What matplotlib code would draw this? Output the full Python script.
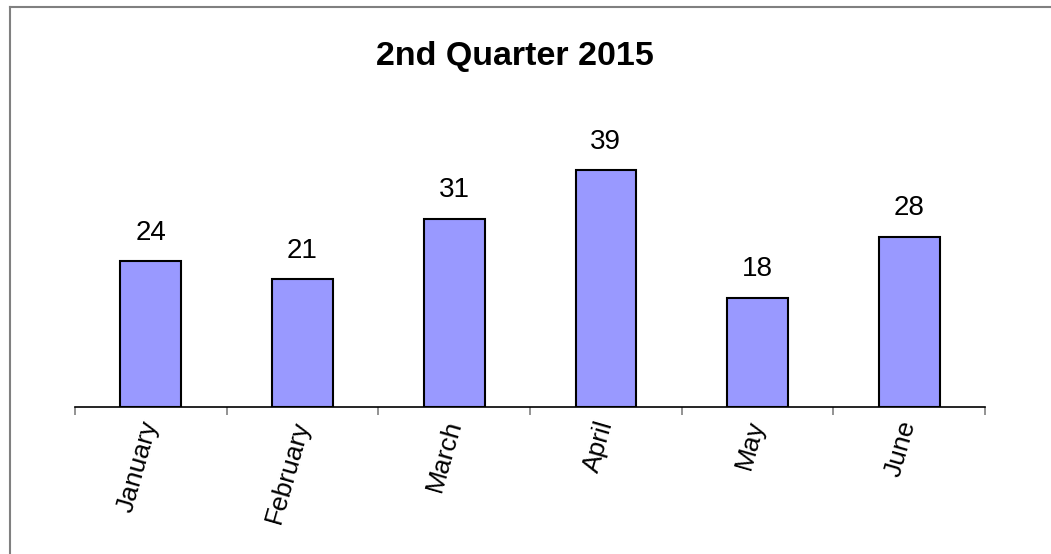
import matplotlib.pyplot as plt
from matplotlib.lines import Line2D
import numpy as np

months = ['January', 'February', 'March', 'April', 'May', 'June']
values = [24, 21, 31, 39, 18, 28]
title = '2nd Quarter 2015'

plt.rcParams['font.family'] = ['Liberation Sans', 'DejaVu Sans']

fig = plt.figure(figsize=(10.51, 5.54), dpi=100)
ax = fig.add_axes([75 / 1051, 1 - 407 / 554, 910 / 1051, 304 / 554])

x = np.arange(len(months))
ax.bar(x, values, width=0.4, color='#9999FF', edgecolor='black', linewidth=1.5)
for xi, v in zip(x, values):
    ax.annotate(str(v), (xi, v), xytext=(0, 11), textcoords='offset points',
                ha='center', va='bottom', fontsize=20)

ax.set_xlim(-0.5, len(months) - 0.5)
ax.set_ylim(0, 50)
ax.set_yticks([])
for s in ['top', 'right', 'left']:
    ax.spines[s].set_visible(False)
ax.spines['bottom'].set_linewidth(1.2)

ax.set_xticks(x)
ax.set_xticklabels(months, rotation=74, ha='right', va='center',
                   rotation_mode='anchor', fontsize=19)
ax.tick_params(axis='x', which='major', length=0, pad=10)
ax.set_xticks(np.arange(len(months) + 1) - 0.5, minor=True)
ax.tick_params(axis='x', which='minor', length=6, color='#808080', width=1.2)

fig.text(515 / 1051, 1 - 57 / 554, title, ha='center', va='center',
         fontsize=24.5, fontweight='bold')

# outer frame (top and left edges only visible)
fig.add_artist(Line2D([10 / 1051, 10 / 1051], [0, 1 - 7 / 554], color='#808080', lw=1.5))
fig.add_artist(Line2D([10 / 1051, 1], [1 - 7 / 554, 1 - 7 / 554], color='#808080', lw=1.5))

fig.savefig('out.png', dpi=100)
